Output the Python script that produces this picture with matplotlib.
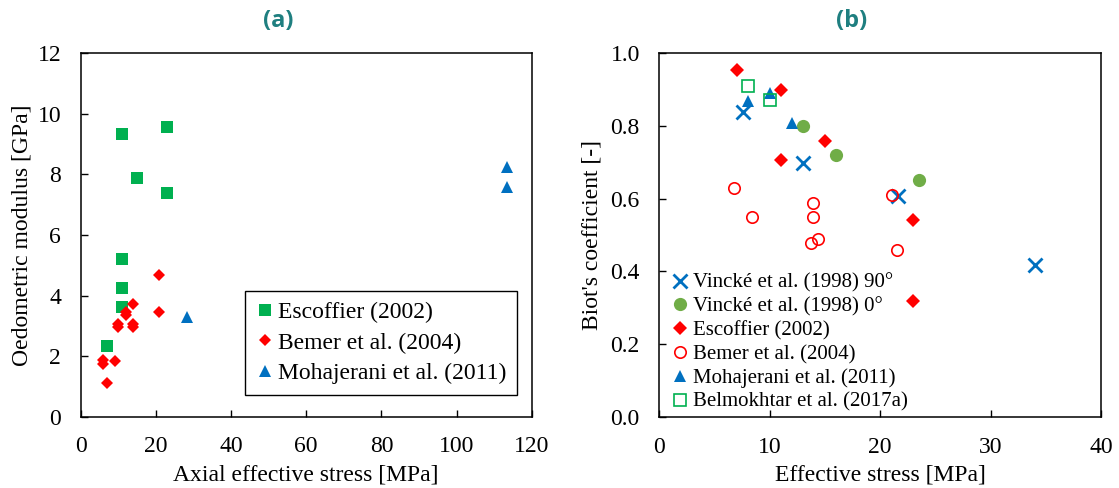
import matplotlib
matplotlib.use("Agg")
import matplotlib.pyplot as plt

# (a) oedometric modulus vs axial effective stress
esc_a_x = [11.0, 23.0, 15.0, 23.0, 11.0, 11.0, 11.0, 7.0]
esc_a_y = [9.33, 9.56, 7.88, 7.39, 5.21, 4.26, 3.64, 2.35]
bem_a_x = [20.9, 20.9, 13.9, 12.0, 12.0, 9.8, 9.8, 13.9, 13.9, 5.9, 5.9, 9.0, 7.0]
bem_a_y = [4.68, 3.45, 3.72, 3.47, 3.36, 3.05, 2.97, 3.08, 2.98, 1.88, 1.75, 1.86, 1.11]
moh_a_x = [28.2, 113.4, 113.4]
moh_a_y = [3.31, 8.23, 7.59]

# (b) Biot's coefficient vs effective stress
vin90_x = [7.6, 13.0, 21.6, 34.0]
vin90_y = [0.836, 0.697, 0.607, 0.418]
vin0_x = [13.0, 16.0, 23.5]
vin0_y = [0.80, 0.72, 0.65]
esc_b_x = [7.0, 11.0, 15.0, 11.0, 23.0, 23.0]
esc_b_y = [0.952, 0.899, 0.757, 0.705, 0.542, 0.320]
bem_b_x = [6.8, 8.4, 13.9, 13.9, 13.7, 14.4, 21.1, 21.5]
bem_b_y = [0.630, 0.549, 0.589, 0.549, 0.479, 0.490, 0.610, 0.460]
moh_b_x = [8.0, 10.0, 12.0]
moh_b_y = [0.868, 0.889, 0.807]
bel_b_x = [8.0, 10.0]
bel_b_y = [0.909, 0.870]

GREEN = "#00b050"
LGREEN = "#70ad47"
RED = "#ff0000"
BLUE = "#0070c0"
TEAL = "#1f7f80"

plt.rcParams["font.family"] = ["Liberation Serif", "DejaVu Serif"]
plt.rcParams["font.size"] = 17

fig = plt.figure(figsize=(11.19, 4.88), dpi=100)
ax1 = fig.add_axes([0.0721, 0.1455, 0.4031, 0.7459])
ax2 = fig.add_axes([0.5892, 0.1449, 0.3947, 0.7471])


def style(ax):
    for side in ["top", "right", "bottom", "left"]:
        ax.spines[side].set_linewidth(1.1)
        ax.spines[side].set_color("black")
    ax.tick_params(direction="in", length=5, width=1, pad=14,
                   top=False, right=False, labelsize=17)


ax1.plot(esc_a_x, esc_a_y, "s", color=GREEN, ms=8.6, mew=0,
         label="Escoffier (2002)")
ax1.plot(bem_a_x, bem_a_y, "D", color=RED, ms=6.5, mew=0,
         label="Bemer et al. (2004)")
ax1.plot(moh_a_x, moh_a_y, "^", color=BLUE, ms=8.6, mew=0,
         label="Mohajerani et al. (2011)")
ax1.set_xlim(0, 120)
ax1.set_ylim(0, 12)
ax1.set_xticks(range(0, 121, 20))
ax1.set_yticks(range(0, 13, 2))
ax1.set_xlabel("Axial effective stress [MPa]", labelpad=5)
ax1.set_ylabel("Oedometric modulus [GPa]", labelpad=4)
style(ax1)
leg1 = ax1.legend(loc="lower right", bbox_to_anchor=(0.967, 0.061),
                  borderaxespad=0, fancybox=False, edgecolor="black",
                  framealpha=1, handlelength=0.8, handletextpad=0.15,
                  labelspacing=0.38, borderpad=0.45, fontsize=17)
leg1.get_frame().set_linewidth(1.0)

ax2.plot(vin90_x, vin90_y, "x", color=BLUE, ms=9.4, mew=2.0,
         label="Vincké et al. (1998) 90°")
ax2.plot(vin0_x, vin0_y, "o", color=LGREEN, ms=9.5, mew=0,
         label="Vincké et al. (1998) 0°")
ax2.plot(esc_b_x, esc_b_y, "D", color=RED, ms=6.9, mew=0,
         label="Escoffier (2002)")
ax2.plot(bem_b_x, bem_b_y, "o", color=RED, mfc="none", ms=8.2, mew=1.2,
         label="Bemer et al. (2004)")
ax2.plot(moh_b_x, moh_b_y, "^", color=BLUE, ms=8.6, mew=0,
         label="Mohajerani et al. (2011)")
ax2.plot(bel_b_x, bel_b_y, "s", color=GREEN, mfc="none", ms=8.2, mew=1.2,
         label="Belmokhtar et al. (2017a)")
ax2.set_xlim(0, 40)
ax2.set_ylim(0, 1.0)
ax2.set_xticks(range(0, 41, 10))
ax2.set_yticks([0.0, 0.2, 0.4, 0.6, 0.8, 1.0])
ax2.set_yticklabels(["0.0", "0.2", "0.4", "0.6", "0.8", "1.0"])
ax2.set_xlabel("Effective stress [MPa]", labelpad=5)
ax2.set_ylabel("Biot's coefficient [-]", labelpad=6)
style(ax2)
ax2.legend(loc="lower left", bbox_to_anchor=(0.028, 0.015), borderaxespad=0,
           frameon=False, handlelength=0.8, handletextpad=0.2,
           labelspacing=0.2, borderpad=0, fontsize=15)

fig.text(0.249, 0.956, "(a)", ha="center", va="center", color=TEAL,
         fontsize=17, fontweight="bold", family="Open Sans")
fig.text(0.761, 0.956, "(b)", ha="center", va="center", color=TEAL,
         fontsize=17, fontweight="bold", family="Open Sans")

fig.savefig("out.png", dpi=100)
